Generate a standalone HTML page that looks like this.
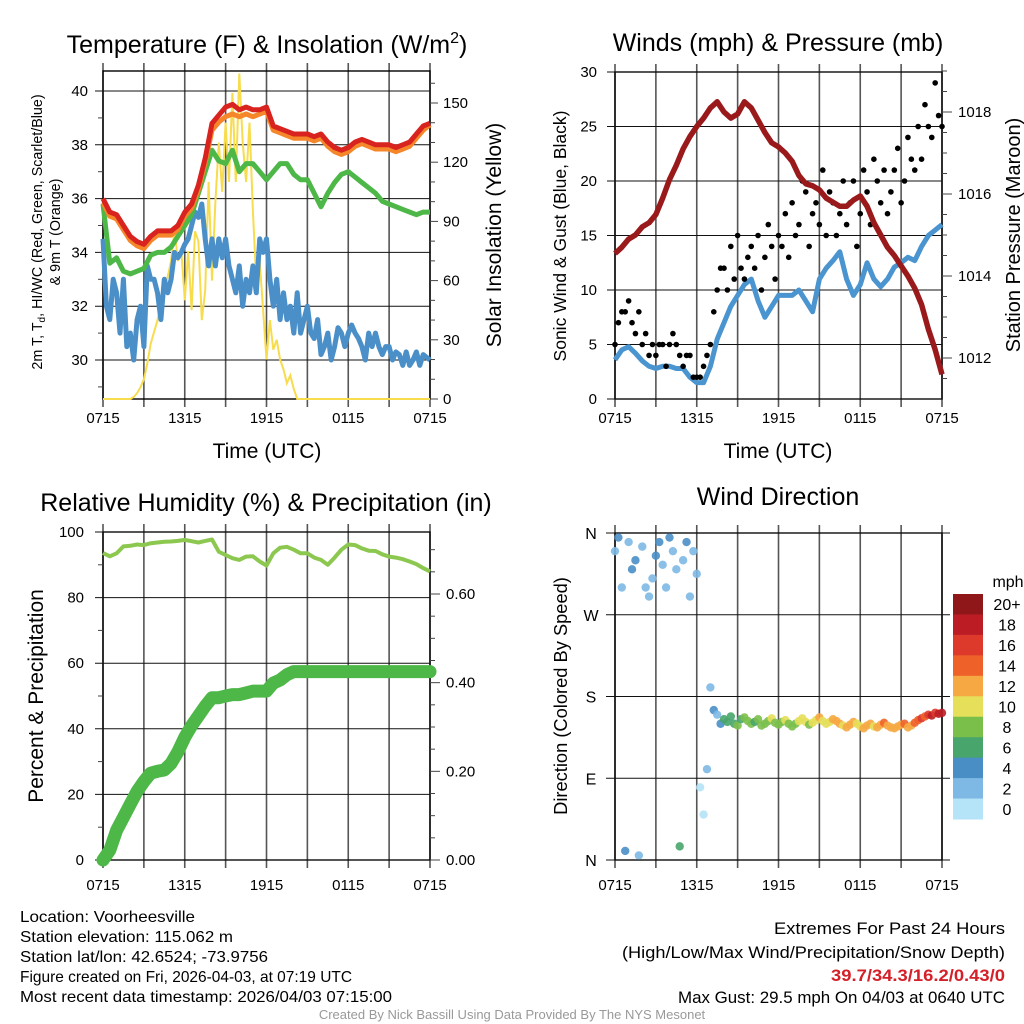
<!DOCTYPE html>
<html><head><meta charset="utf-8"><style>
html,body{margin:0;padding:0;background:#fff;}
svg{display:block;font-family:"Liberation Sans",sans-serif;}
</style></head><body>
<svg id="c" width="1024" height="1024" viewBox="0 0 1024 1024" xmlns="http://www.w3.org/2000/svg">
<rect width="1024" height="1024" fill="#fff"/>
<g id="g1"></g>
<g id="g2"></g>
<g id="g3"></g>
<g id="g4"></g>

<text x="267" y="53" font-size="25" text-anchor="middle">Temperature (F) &amp; Insolation (W/m<tspan font-size="16" dy="-10">2</tspan><tspan dy="10">)</tspan></text>
<text x="778" y="51" font-size="25" text-anchor="middle">Winds (mph) &amp; Pressure (mb)</text>
<text x="266" y="511" font-size="25" text-anchor="middle">Relative Humidity (%) &amp; Precipitation (in)</text>
<text x="778" y="505" font-size="25" text-anchor="middle">Wind Direction</text>

<text x="267" y="458" font-size="21" text-anchor="middle">Time (UTC)</text>
<text x="778" y="458" font-size="21" text-anchor="middle">Time (UTC)</text>

<text transform="translate(42,232) rotate(-90)" font-size="14.3" text-anchor="middle">2m T, T<tspan font-size="10" dy="3">d</tspan><tspan dy="-3">, HI/WC (Red, Green, Scarlet/Blue)</tspan></text>
<text transform="translate(60,232) rotate(-90)" font-size="14.3" text-anchor="middle">&amp; 9m T (Orange)</text>
<text transform="translate(501,235) rotate(-90)" font-size="21" text-anchor="middle">Solar Insolation (Yellow)</text>
<text transform="translate(566,236) rotate(-90)" font-size="17.5" text-anchor="middle">Sonic Wind &amp; Gust (Blue, Black)</text>
<text transform="translate(1020,235) rotate(-90)" font-size="20" text-anchor="middle">Station Pressure (Maroon)</text>
<text transform="translate(43,696) rotate(-90)" font-size="21" text-anchor="middle">Percent &amp; Precipitation</text>
<text transform="translate(567,696) rotate(-90)" font-size="18.3" text-anchor="middle">Direction (Colored By Speed)</text>

<g font-size="16">
<text x="20" y="922" textLength="175" lengthAdjust="spacingAndGlyphs">Location: Voorheesville</text>
<text x="20" y="942" textLength="213" lengthAdjust="spacingAndGlyphs">Station elevation: 115.062 m</text>
<text x="20" y="962" textLength="248" lengthAdjust="spacingAndGlyphs">Station lat/lon: 42.6524; -73.9756</text>
<text x="20" y="982" textLength="332" lengthAdjust="spacingAndGlyphs">Figure created on Fri, 2026-04-03, at 07:19 UTC</text>
<text x="20" y="1002" textLength="372" lengthAdjust="spacingAndGlyphs">Most recent data timestamp: 2026/04/03 07:15:00</text>
</g>
<g font-size="17">
<text x="774" y="934" textLength="231" lengthAdjust="spacingAndGlyphs">Extremes For Past 24 Hours</text>
<text x="622" y="958" textLength="383" lengthAdjust="spacingAndGlyphs">(High/Low/Max Wind/Precipitation/Snow Depth)</text>
<text x="831" y="981" textLength="174" lengthAdjust="spacingAndGlyphs" fill="#d42028" font-weight="bold">39.7/34.3/16.2/0.43/0</text>
<text x="678" y="1003" textLength="327" lengthAdjust="spacingAndGlyphs">Max Gust: 29.5 mph On 04/03 at 0640 UTC</text>
</g>
<text x="512" y="1019" font-size="13" fill="#999" text-anchor="middle">Created By Nick Bassill Using Data Provided By The NYS Mesonet</text>
</svg>
<script>
// ---------- data ----------
const timeTicks = ["0715","1315","1915","0115","0715"];
const tempRed = [36.0,35.5,35.4,35.0,34.6,34.4,34.3,34.6,34.8,34.8,34.8,35.0,35.5,35.8,36.5,37.5,38.8,39.1,39.4,39.5,39.3,39.4,39.3,39.3,39.4,38.7,38.6,38.5,38.4,38.4,38.4,38.3,38.4,38.1,37.9,37.8,37.9,38.1,38.2,38.1,38.0,38.0,38.0,37.9,38.0,38.1,38.4,38.7,38.8];
const temp9m = [35.9,35.4,35.3,34.9,34.5,34.3,34.2,34.5,34.7,34.7,34.7,34.9,35.4,35.7,36.4,37.4,38.6,38.9,39.1,39.2,39.1,39.2,39.1,39.2,39.3,38.6,38.5,38.4,38.3,38.3,38.3,38.2,38.3,38.0,37.8,37.7,37.8,38.0,38.1,38.0,37.9,37.9,37.9,37.8,37.9,38.0,38.3,38.6,38.8];
const hiwc = [35.8,33.6,33.8,33.3,33.2,33.3,33.4,33.9,34.0,34.0,34.2,34.6,35.0,35.4,36.2,37.0,37.8,37.4,37.3,37.8,37.0,37.3,37.3,37.0,36.7,37.0,37.3,37.3,36.9,36.7,36.7,36.2,35.7,36.2,36.6,36.9,37.0,36.8,36.6,36.4,36.2,35.9,35.8,35.7,35.6,35.5,35.4,35.5,35.5];
const dewpt = [34.5,32,31.5,33,32.5,31,33,30.5,31,30,31.5,32,30.5,33.5,33,33,32.5,31.5,33,32.5,33,34,33.8,34,34.3,34.5,35,35.5,35.3,35.8,34.5,33.5,34.5,33.5,34.5,33.8,34.5,33.5,33,32.5,33.5,32,33,32.5,33.5,32.5,34.5,34,34.5,33,32,33,31.5,32.5,31.5,32,31,32.5,31,31.5,32,31,30.8,31.5,30.2,30.5,31,30,30.5,31.2,31,30.5,31,31.3,31,30.8,30.5,30,31,30.5,31,30.5,30.2,30.5,30.5,30,30.3,30.2,29.8,30.3,29.8,30,30.3,29.8,30.2,30.1,30.0];
const solar = [0,0,0,0,0,0,0,0,0,1,3,6,10,18,28,34,40,48,55,62,70,86,70,75,50,75,45,85,80,40,55,110,60,100,130,105,140,110,155,110,165,130,110,140,95,60,70,45,20,40,25,30,20,15,8,12,5,0,0,0,0,0,0,0,0,0,0,0,0,0,0,0,0,0,0,0,0,0,0,0,0,0,0,0,0,0,0,0,0,0,0,0,0,0,0,0,0];
const pressure = [1014.55,1014.7,1014.9,1015.0,1015.2,1015.3,1015.5,1015.9,1016.35,1016.7,1017.1,1017.4,1017.65,1017.85,1018.1,1018.25,1018.0,1017.85,1017.95,1018.25,1018.1,1017.8,1017.5,1017.25,1017.15,1017.0,1016.8,1016.45,1016.25,1016.2,1016.1,1015.9,1015.8,1015.7,1015.7,1015.85,1015.95,1015.7,1015.3,1015.0,1014.7,1014.5,1014.25,1014.0,1013.7,1013.3,1012.7,1012.2,1011.6];
const windSpd = [3.6,4.5,4.8,4.2,3.5,3.0,2.8,3.0,3.0,2.8,2.8,2.0,1.5,1.5,3.0,5.5,7.0,8.5,9.5,10.5,11.0,9.0,7.5,8.5,9.5,9.5,9.5,10.0,9.0,8.0,11.0,12.0,12.7,13.5,11.0,9.5,10.5,12.5,11.0,10.3,11.0,12.1,12.5,13.0,12.7,14.0,15.0,15.5,16.0];
const gusts = [5,7,8,8,9,7,6,8,5,6,4,5,4,5,5,3,5,6,5,4,3,4,4,2,2,2,3,4,5,8,10,12,12,10,14,11,15,12,11,13,14,12,15,10,13,16,14,11,15,14,17,13,18,15,16,20,19,14,17,18,16,21,15,19,18,15,17,20,16,18,20,14,17,21,19,16,22,20,18,21,17,19,21,23,18,20,24,22,21,25,22,27,25,24,29,26,25];
const rh = [93.6,92.6,93.5,95.6,95.8,96.2,96.0,96.6,96.8,97.0,97.1,97.3,97.6,97.2,96.8,97.3,97.7,94,93,92,91.5,92.5,92.6,91,89.8,93.5,95.2,95.5,94.6,93.5,93.5,92.2,91.5,90,92.2,94.6,96.2,96,95,94.3,94.2,93.2,92.5,92.2,91.7,91,90.2,89,88];
const precip = [0,0.022,0.067,0.096,0.126,0.155,0.177,0.196,0.200,0.203,0.218,0.244,0.277,0.303,0.325,0.347,0.366,0.366,0.370,0.373,0.373,0.377,0.381,0.381,0.381,0.399,0.406,0.418,0.425,0.425,0.425,0.425,0.425,0.425,0.425,0.425,0.425,0.425,0.425,0.425,0.425,0.425,0.425,0.425,0.425,0.425,0.425,0.425,0.425];
const windDir = [340,355,300,10,350,320,330,5,345,300,290,310,335,350,325,300,355,340,320,15,330,350,290,340,315,80,50,100,190,165,160,150,155,152,158,150,148,155,157,153,150,152,155,148,150,153,156,151,149,152,154,150,147,150,153,156,152,149,151,154,157,153,150,152,155,153,150,148,146,149,152,150,147,145,148,150,147,146,149,151,148,146,145,147,149,150,146,148,151,154,156,158,160,159,162,161,162];
const dirSpd = [3,4,2,5,3,4,4,3,2,3,2,3,4,4,3,2,4,3,2,6,3,4,2,3,2,1,1,2,3,4,3,5,6,6,7,6,8,7,8,9,8,7,9,8,9,8,10,9,8,9,10,9,8,9,10,11,10,9,10,11,12,11,10,11,12,13,12,11,12,13,12,11,10,12,13,12,11,12,13,14,13,12,13,12,13,14,13,12,14,15,16,15,17,18,17,18,18];
const speedBinLabels = ["0","2","4","6","8","10","12","14","16","18","20+"];
const speedBinColors = ["#b5e3f7","#7db9e4","#4a8ec6","#48a56c","#7bbf4b","#e6df5a","#f6a843","#ee6229","#dd3a2b","#bc1d25","#8f171a"];

// ---------- helpers ----------
const NS="http://www.w3.org/2000/svg";
function mk(parent,tag,attrs,text){const e=document.createElementNS(NS,tag);for(const k in attrs)e.setAttribute(k,attrs[k]);if(text!==undefined)e.textContent=text;parent.appendChild(e);return e;}
function xScale(x0,x1){return h=>x0+(x1-x0)*h/24;}
function lin(v0,p0,v1,p1){return v=>p0+(v-v0)*(p1-p0)/(v1-v0);}
function pathFrom(arr,step,xs,ys){return arr.map((v,i)=>(i?"L":"M")+xs(i*step).toFixed(1)+" "+ys(v).toFixed(1)).join(" ");}

function frame(g,x0,x1,yt,yb,name){
  for(let k=0;k<=8;k++){const x=x0+(x1-x0)*k/8;
    const l=mk(g,"line",{x1:x,x2:x,y1:yt-8,y2:yb+8,stroke:"#555","stroke-width":1.6});
    
    }
  const f=mk(g,"rect",{x:x0,y:yt,width:x1-x0,height:yb-yt,fill:"none",stroke:"#000","stroke-width":1.4});
  
  
}
function xLabels(g,x0,x1,y){
  timeTicks.forEach((t,i)=>{const tx=mk(g,"text",{x:x0+(x1-x0)*i/4,y:y,"font-size":15,"text-anchor":"middle"},t);
    
    });
}
function hGrid(g,x0,x1,y,label,side,lx){
  const l=mk(g,"line",{x1:side==="left"?x0-8:x0,x2:side==="right"?x1+8:x1,y1:y,y2:y,stroke:"#111","stroke-width":1});
  
  
  if(label!==null){const t=mk(g,"text",{x:lx,y:y+5,"font-size":15,"text-anchor":side==="left"?"end":"start"},label);
    
    }
}
function tick(g,x,y,len){const l=mk(g,"line",{x1:x,x2:x+len,y1:y,y2:y,stroke:"#444","stroke-width":1});
  
  }

// ---------- panel 1 ----------
(function(){
  const g=document.getElementById("g1");const x0=103,x1=430,yt=71,yb=399;
  const xs=xScale(x0,x1), ty=lin(30,360,40,91), sy=lin(0,399,150,103);
  frame(g,x0,x1,yt,yb,"temperature");
  for(let v=30;v<=40;v+=2)hGrid(g,x0,x1,ty(v),String(v),"left",88);
  for(let v=29;v<=40;v+=2)tick(g,x0,ty(v),-5);
  [0,30,60,90,120,150].forEach(v=>{tick(g,x1,sy(v),8);const t=mk(g,"text",{x:443,y:sy(v)+5,"font-size":15},String(v));
    
    });
  for(let v=10;v<=160;v+=10)if(v%30)tick(g,x1,sy(v),5);
  xLabels(g,x0,x1,423);
  const s=mk(g,"path",{d:pathFrom(solar,0.25,xs,sy),fill:"none",stroke:"#f7dc4d","stroke-width":2});
  
  
  const d=mk(g,"path",{d:pathFrom(dewpt,0.25,xs,ty),fill:"none",stroke:"#4a8fc8","stroke-width":5,"stroke-linejoin":"round"});
  
  
  const h=mk(g,"path",{d:pathFrom(hiwc,0.5,xs,ty),fill:"none",stroke:"#4db748","stroke-width":5,"stroke-linejoin":"round"});
  
  
  const o=mk(g,"path",{d:pathFrom(temp9m,0.5,xs,v=>ty(v)+1.5),fill:"none",stroke:"#f5862a","stroke-width":5,"stroke-linejoin":"round"});
  
  
  const r=mk(g,"path",{d:pathFrom(tempRed,0.5,xs,ty),fill:"none",stroke:"#d8231f","stroke-width":5,"stroke-linejoin":"round"});
  
  
})();

// ---------- panel 2 ----------
(function(){
  const g=document.getElementById("g2");const x0=615,x1=942,yt=72,yb=399;
  const xs=xScale(x0,x1), wy=lin(0,399,30,72), py=lin(1012,358,1018,112);
  frame(g,x0,x1,yt,yb,"winds");
  for(let v=0;v<=30;v+=5)hGrid(g,x0,x1,wy(v),String(v),"left",597);
  [1012,1014,1016,1018].forEach(v=>{tick(g,x1,py(v),10);const t=mk(g,"text",{x:958,y:py(v)+5,"font-size":15},String(v));
    
    });
  for(let v=1011.5;v<=1019;v+=0.5)if(v%2)tick(g,x1,py(v),5);
  xLabels(g,x0,x1,423);
  const w=mk(g,"path",{d:pathFrom(windSpd,0.5,xs,wy),fill:"none",stroke:"#4a94d0","stroke-width":5,"stroke-linejoin":"round"});
  
  
  gusts.forEach((v,i)=>{const c=mk(g,"circle",{cx:xs(i*0.25),cy:wy(v),r:2.8,fill:"#000"});
    
    });
  const p=mk(g,"path",{d:pathFrom(pressure,0.5,xs,py),fill:"none",stroke:"#9a1a1c","stroke-width":5.5,"stroke-linejoin":"round"});
  
  
})();

// ---------- panel 3 ----------
(function(){
  const g=document.getElementById("g3");const x0=103,x1=430,yt=532,yb=860;
  const xs=xScale(x0,x1), ry=lin(0,860,100,532), py=lin(0,860,0.6,594);
  frame(g,x0,x1,yt,yb,"humidity");
  for(let v=0;v<=100;v+=20)hGrid(g,x0,x1,ry(v),String(v),"left",84);
  for(let v=10;v<=90;v+=20)tick(g,x0,ry(v),-5);
  ["0.00","0.20","0.40","0.60"].forEach((s,i)=>{const v=i*0.2;tick(g,x1,py(v),10);const t=mk(g,"text",{x:446,y:py(v)+5,"font-size":15},s);
    
    });
  for(let v=0.05;v<0.75;v+=0.05)if(Math.abs(v*5-Math.round(v*5))>0.01)tick(g,x1,py(v),5);
  xLabels(g,x0,x1,890);
  const h=mk(g,"path",{d:pathFrom(rh,0.5,xs,ry),fill:"none",stroke:"#8cc850","stroke-width":4,"stroke-linejoin":"round"});
  
  
  const p=mk(g,"path",{d:pathFrom(precip,0.5,xs,py),fill:"none",stroke:"#4db748","stroke-width":13,"stroke-linejoin":"round","stroke-linecap":"round"});
  
  
})();

// ---------- panel 4 ----------
(function(){
  const g=document.getElementById("g4");const x0=615,x1=942,yt=533,yb=860;
  const xs=xScale(x0,x1), dy=lin(0,860,360,533);
  frame(g,x0,x1,yt,yb,"direction");
  ["N","E","S","W","N"].forEach((s,i)=>{const y=dy(i*90);
    const l=mk(g,"line",{x1:606,x2:950,y1:y,y2:y,stroke:"#111","stroke-width":1});
    
    
    const t=mk(g,"text",{x:591,y:y+6,"font-size":16,"text-anchor":"middle"},s);
    
    });
  xLabels(g,x0,x1,890);
  windDir.forEach((v,i)=>{const b=Math.min(10,Math.max(0,Math.floor(dirSpd[i]/2)));
    const c=mk(g,"circle",{cx:xs(i*0.25),cy:dy(v),r:4.2,fill:speedBinColors[b],"fill-opacity":0.9});
    
    });
  const cbTop=594,cbH=225,n=speedBinLabels.length,bh=cbH/n;
  const u=mk(g,"text",{x:1008,y:587,"font-size":16,"text-anchor":"middle"},"mph");
  
  
  for(let k=0;k<n;k++){const idx=n-1-k;const y=cbTop+k*bh;
    const r=mk(g,"rect",{x:953,y:y,width:30,height:bh+0.5,fill:speedBinColors[idx]});
    
    
    const t=mk(g,"text",{x:1007,y:y+bh/2+6,"font-size":16,"text-anchor":"middle"},speedBinLabels[idx]);
    
    }
})();
</script>
</body></html>
